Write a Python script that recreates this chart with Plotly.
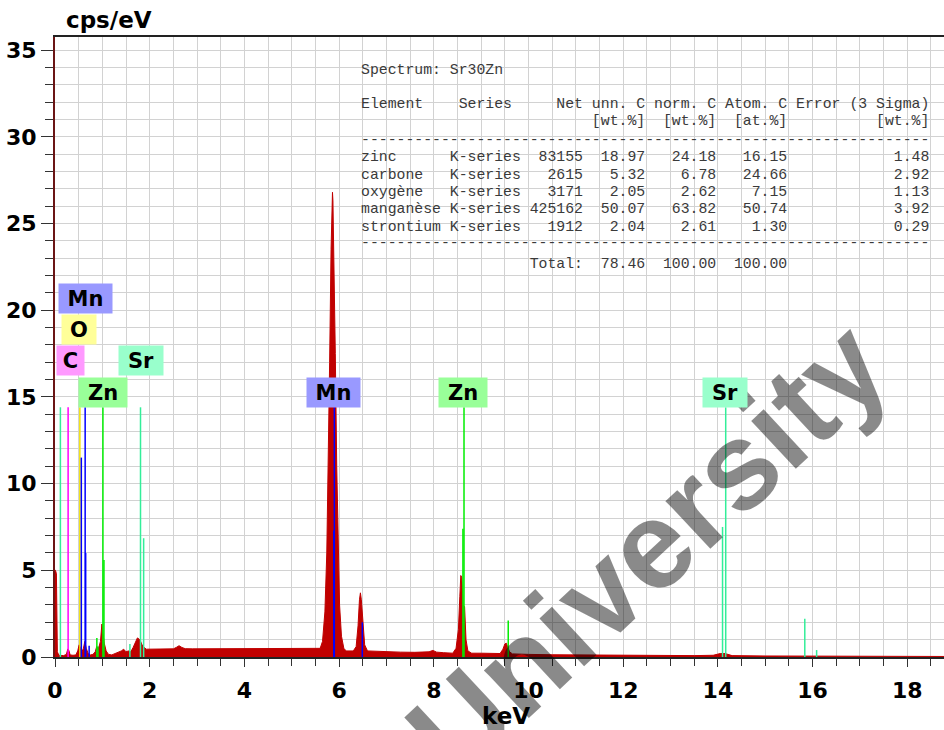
import plotly.graph_objects as go

# ---------------- data ----------------
energy_kev = [
    0.00, 0.01, 0.03, 0.05, 0.08, 0.12, 0.18, 0.24, 0.27, 0.29, 0.32, 0.38, 0.44, 0.48,
    0.51, 0.54, 0.57, 0.60, 0.63, 0.66, 0.70, 0.75, 0.80, 0.85, 0.88, 0.92, 0.96, 0.99,
    1.01, 1.04, 1.08, 1.13, 1.20, 1.28, 1.35, 1.40, 1.45, 1.50, 1.55, 1.60, 1.65, 1.70,
    1.74, 1.77, 1.80, 1.84, 1.88, 1.93, 2.00, 2.10, 2.20, 2.30, 2.40, 2.50, 2.56, 2.62,
    2.68, 2.75, 2.90, 3.10, 3.40, 3.70, 4.00, 4.30, 4.60, 4.90, 5.20, 5.45, 5.55,
    5.60, 5.65, 5.70, 5.74, 5.77, 5.80, 5.83, 5.85, 5.86, 5.87, 5.89, 5.92, 5.95, 5.98,
    6.01, 6.05, 6.10, 6.15, 6.30, 6.36, 6.40, 6.43, 6.45, 6.47, 6.50, 6.54, 6.60, 6.80,
    7.00, 7.30, 7.60, 7.90, 7.98, 8.06, 8.20, 8.35, 8.40, 8.47, 8.52, 8.55, 8.57, 8.59,
    8.62, 8.65, 8.68, 8.72, 8.80, 9.00, 9.20, 9.35, 9.40, 9.46, 9.50, 9.53, 9.56, 9.60,
    9.66, 9.80, 10.0, 10.5, 11.0, 11.5, 12.0, 12.5, 13.0, 13.5, 13.9, 14.05, 14.15, 14.3,
    15.0, 16.0, 17.0, 18.0, 18.8,
]
counts_cps = [
    5.0, 5.0, 4.8, 0.3, 0.1, 0.08, 0.08, 0.15, 0.45, 0.4, 0.12, 0.1, 0.12, 0.35,
    0.7, 0.5, 0.3, 0.5, 0.9, 0.5, 0.2, 0.12, 0.15, 0.3, 0.6, 0.5, 0.9, 1.9,
    1.4, 0.8, 0.35, 0.15, 0.12, 0.2, 0.3, 0.35, 0.45, 0.3, 0.35, 0.3, 0.55, 0.9,
    1.1, 1.05, 0.95, 0.7, 0.55, 0.45, 0.45, 0.45, 0.45, 0.46, 0.46, 0.47, 0.55, 0.65,
    0.55, 0.48, 0.47, 0.47, 0.48, 0.48, 0.49, 0.5, 0.5, 0.5, 0.5, 0.5, 0.5,
    0.5, 0.9, 2.6, 6.0, 10.5, 17.0, 23.5, 26.2, 26.8, 26.3, 23.5, 17.5, 11.0, 6.0,
    3.0, 1.2, 0.5, 0.35, 0.35, 0.6, 1.8, 3.3, 3.7, 3.3, 1.9, 0.7, 0.35, 0.32,
    0.3, 0.28, 0.27, 0.3, 0.38, 0.28, 0.25, 0.24, 0.22, 0.5, 1.6, 3.5, 4.7, 4.6,
    3.0, 2.9, 1.0, 0.35, 0.22, 0.22, 0.2, 0.2, 0.2, 0.45, 0.75, 0.8, 0.6, 0.3,
    0.18, 0.16, 0.15, 0.13, 0.12, 0.1, 0.1, 0.09, 0.08, 0.08, 0.1, 0.2, 0.2, 0.08,
    0.06, 0.05, 0.04, 0.03, 0.03,
]

# element line markers (keV, cps/eV)
C_lines_kev = [0.277]
C_lines_cps = [14.4]
O_lines_kev = [0.525]
O_lines_cps = [14.4]
Mn_lines_kev = [0.556, 0.637, 0.648, 0.721, 5.888, 5.899, 6.490]
Mn_lines_cps = [11.5, 14.4, 6.0, 0.65, 7.3, 14.4, 2.0]
Zn_lines_kev = [0.884, 0.907, 1.012, 1.034, 8.615, 8.638, 9.572]
Zn_lines_cps = [1.1, 0.6, 14.4, 5.6, 7.4, 14.4, 2.1]
Sr_lines_kev = [0.114, 1.582, 1.806, 1.872, 14.098, 14.165, 15.835, 16.085]
Sr_lines_cps = [14.4, 0.75, 14.4, 6.85, 7.5, 14.4, 2.2, 0.4]

# element labels
label_text = ["Mn", "O", "C", "Sr", "Zn", "Mn", "Zn", "Sr"]
label_kev = [0.644, 0.507, 0.327, 1.806, 1.014, 5.882, 8.617, 14.15]
label_cps = [20.67, 18.89, 17.1, 17.1, 15.28, 15.28, 15.28, 15.28]

# quantification table
spectrum_name = "Sr30Zn"
tbl_element = ["zinc", "carbone", "oxygène", "manganèse", "strontium"]
tbl_series = ["K-series"] * 5
tbl_net = [83155, 2615, 3171, 425162, 1912]
tbl_unn = [18.97, 5.32, 2.05, 50.07, 2.04]
tbl_norm = [24.18, 6.78, 2.62, 63.82, 2.61]
tbl_atom = [16.15, 24.66, 7.15, 50.74, 1.30]
tbl_err = [1.48, 2.92, 1.13, 3.92, 0.29]
tbl_total = [78.46, 100.00, 100.00]

# ---------------- styles ----------------
W, H = 944, 730
ML, MR, MT, MB = 55, 0, 37, 73
PW, PH = W - ML - MR, H - MT - MB

def px_x(px):
    return (px - ML) / PW

def px_y(py):
    return (H - MB - py) / PH

elem_line_color = {"C": "#ff00ff", "O": "#f0e000", "Mn": "#0000ff", "Zn": "#00ee00", "Sr": "#33ee99"}
elem_box_color = {"C": "#ff99ff", "O": "#ffff99", "Mn": "#9999ff", "Zn": "#99ff99", "Sr": "#99ffcc"}
label_box_w = {"Mn": 53, "O": 34, "C": 27, "Zn": 48, "Sr": 44}

fig = go.Figure()

fig.add_trace(go.Scatter(
    x=energy_kev, y=counts_cps, mode="lines", fill="tozeroy",
    line=dict(color="#c00000", width=1), fillcolor="#c00000",
    hoverinfo="skip", showlegend=False,
))

def seg(xs, ys):
    sx, sy = [], []
    for x, y in zip(xs, ys):
        sx += [x, x, None]
        sy += [0, y, None]
    return sx, sy

for name, xs, ys in [("O", O_lines_kev, O_lines_cps), ("C", C_lines_kev, C_lines_cps),
                     ("Mn", Mn_lines_kev, Mn_lines_cps), ("Zn", Zn_lines_kev, Zn_lines_cps),
                     ("Sr", Sr_lines_kev, Sr_lines_cps)]:
    sx, sy = seg(xs, ys)
    fig.add_trace(go.Scatter(x=sx, y=sy, mode="lines",
                             line=dict(color=elem_line_color[name], width=1.5),
                             hoverinfo="skip", showlegend=False))

annotations = []

# watermark (drawn first, semi-transparent like a multiply overlay)
annotations.append(dict(x=px_x(647), y=px_y(549), xref="paper", yref="paper", text="University",
                        showarrow=False, xanchor="center", yanchor="middle", textangle=-43,
                        font=dict(family="Liberation Sans", size=124, color="rgba(0,0,0,0.46)",
                                  weight="bold")))

for t, x, y in zip(label_text, label_kev, label_cps):
    annotations.append(dict(
        x=x, y=y, xref="x", yref="y", text=t, showarrow=False,
        xanchor="center", yanchor="middle",
        font=dict(family="DejaVu Sans", size=21, color="black", weight="bold"),
        bgcolor=elem_box_color[t], width=label_box_w[t], height=29, borderpad=0,
    ))

# table text
NB = "\u00a0"
lines = []
lines.append((70, "Spectrum: " + spectrum_name))
lines.append((104, "Element    Series     Net unn. C norm. C Atom. C Error (3 Sigma)"))
lines.append((121, " " * 26 + "[wt.%]  [wt.%]  [at.%]          [wt.%]"))
lines.append((140, "-" * 64))
row_y = [157, 174.5, 192, 209.5, 227]
for i in range(len(tbl_element)):
    s = (f"{tbl_element[i]:<10}{tbl_series[i]:<8}{tbl_net[i]:>7}{tbl_unn[i]:>7.2f}"
         f"{tbl_norm[i]:>8.2f}{tbl_atom[i]:>8.2f}{tbl_err[i]:>16.2f}")
    lines.append((row_y[i], s))
lines.append((243, "-" * 64))
lines.append((264, " " * 19 + "Total:" + f"{tbl_total[0]:>7.2f}{tbl_total[1]:>8.2f}{tbl_total[2]:>8.2f}"))

for py, s in lines:
    annotations.append(dict(
        x=px_x(359), y=px_y(py), xref="paper", yref="paper", text=s.replace(" ", NB),
        showarrow=False, xanchor="left", yanchor="middle",
        font=dict(family="Liberation Mono", size=14.8, color="#3a3a3a"),
    ))

# axis titles
annotations.append(dict(x=px_x(64), y=px_y(20), xref="paper", yref="paper", text="cps/eV",
                        showarrow=False, xanchor="left", yanchor="middle",
                        font=dict(family="DejaVu Sans", size=23, color="black", weight="bold")))
annotations.append(dict(x=px_x(506), y=px_y(716), xref="paper", yref="paper", text="keV",
                        showarrow=False, xanchor="center", yanchor="middle",
                        font=dict(family="DejaVu Sans", size=23, color="black", weight="bold")))

shapes = [dict(type="rect", xref="paper", yref="paper",
               x0=px_x(334), x1=1.0, y0=px_y(273), y1=px_y(42),
               fillcolor="white", line=dict(width=0), layer="between")]

tickfont = dict(family="DejaVu Sans", size=22, color="black", weight="bold")

fig.update_layout(
    width=W, height=H, margin=dict(l=ML, r=MR, t=MT, b=MB, autoexpand=False),
    paper_bgcolor="white", plot_bgcolor="white",
    annotations=annotations, shapes=shapes,
    xaxis=dict(range=[0, PW / 47.35], dtick=2, tick0=0, showgrid=True, gridcolor="#d2d2d2",
               gridwidth=1, zeroline=False, showline=True, linecolor="#222222", linewidth=2,
               mirror=True, ticks="outside", ticklen=8, tickcolor="#333333", tickwidth=1,
               ticklabelstandoff=5, tickfont=tickfont,
               minor=dict(dtick=0.5, ticks="outside", ticklen=7, tickcolor="#333333",
                          showgrid=True, gridcolor="#d2d2d2", gridwidth=1)),
    yaxis=dict(range=[0, PH / 17.34], dtick=5, tick0=0, showgrid=True, gridcolor="#d2d2d2",
               gridwidth=1, zeroline=False, showline=True, linecolor="#6b1515", linewidth=2,
               ticks="outside", ticklen=12, tickcolor="#333333", tickwidth=1,
               tickfont=tickfont,
               minor=dict(dtick=1, ticks="outside", ticklen=8, tickcolor="#333333",
                          showgrid=True, gridcolor="#d2d2d2", gridwidth=1)),
)

fig.write_html("out.html", config={"displayModeBar": False},
               post_script="document.body.style.margin='0px';document.body.style.overflow='hidden';")
